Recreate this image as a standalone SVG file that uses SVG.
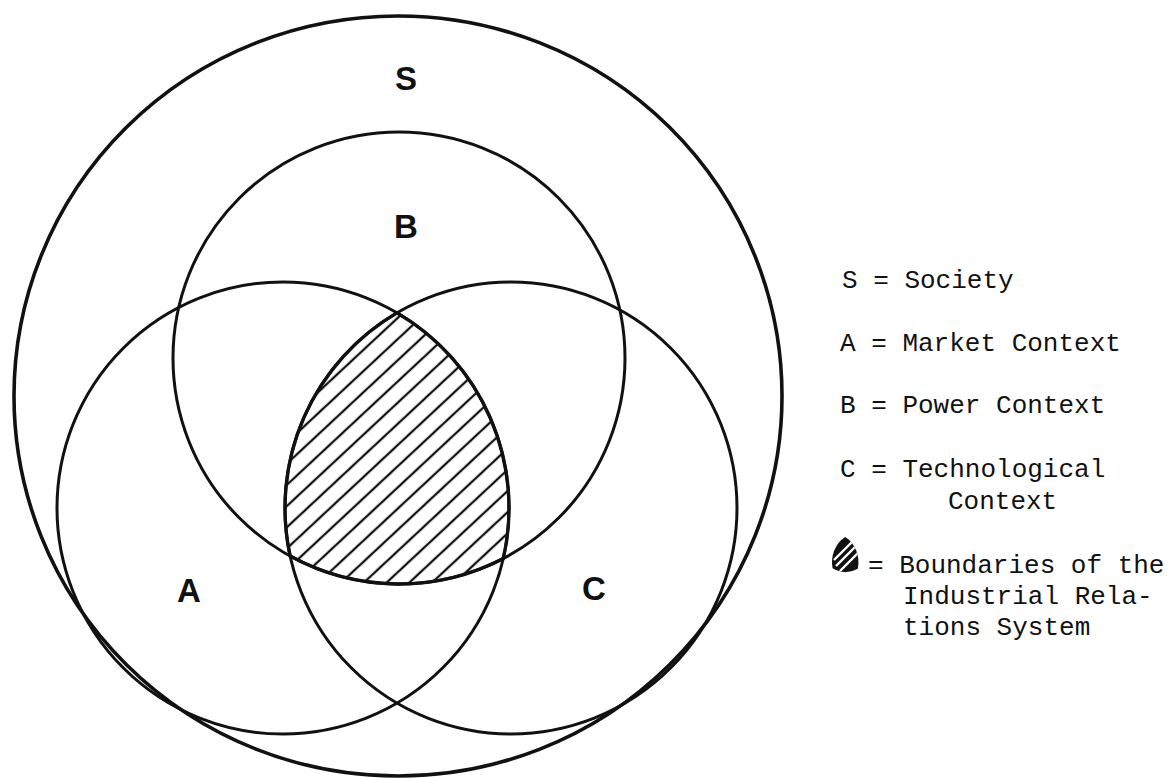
<svg xmlns="http://www.w3.org/2000/svg" width="1172" height="778" viewBox="0 0 1172 778">
  <style>
    .ring { fill: none; stroke: #111; stroke-width: 3; }
    .outer { fill: none; stroke: #111; stroke-width: 3.6; }
    .lbl { font-family: "Liberation Sans", Arial, sans-serif; font-weight: bold; font-size: 33px; fill: #111; text-anchor: middle; }
    .leg { font-family: "Liberation Mono", "DejaVu Sans Mono", monospace; font-size: 26px; fill: #111; }
  </style>
  <defs>
    <pattern id="hatch" patternUnits="userSpaceOnUse" width="20" height="15.5" patternTransform="rotate(-43)">
      <line x1="-2" y1="7.75" x2="22" y2="7.75" stroke="#111" stroke-width="2.3"/>
    </pattern>
    <path id="lens" d="M 397,312.86 A 226,226 0 0 0 290.17,556.08 A 226,226 0 0 0 503.29,558.49 A 226,226 0 0 0 397,312.86 Z"/>
    <clipPath id="iconClip">
      <use href="#lens" transform="translate(832,537) scale(0.118,0.129) translate(-285,-313)"/>
    </clipPath>
  </defs>
  <rect width="1172" height="778" fill="#fff"/>

  <g id="node-S">
    <ellipse class="outer" cx="398" cy="396" rx="384" ry="380"/>
    <text class="lbl" x="406" y="90">S</text>
  </g>
  <g id="node-B">
    <circle class="ring" cx="399" cy="358" r="226"/>
    <text class="lbl" x="406" y="238">B</text>
  </g>
  <g id="node-A">
    <circle class="ring" cx="283" cy="508" r="226"/>
    <text class="lbl" x="189" y="602">A</text>
  </g>
  <g id="node-C">
    <circle class="ring" cx="511" cy="508" r="226"/>
    <text class="lbl" x="594" y="600">C</text>
  </g>
  <g id="node-IRS">
    <use href="#lens" fill="url(#hatch)" stroke="#111" stroke-width="3.4"/>
  </g>
  <g id="connectors"></g>

  <g id="legend">
    <text class="leg" x="842" y="288">S = Society</text>
    <text class="leg" x="840" y="351">A = Market Context</text>
    <text class="leg" x="840" y="413">B = Power Context</text>
    <text class="leg" x="840" y="477">C = Technological</text>
    <text class="leg" x="948" y="509">Context</text>
    <g id="legend-icon">
      <use href="#lens" fill="#111" transform="translate(832,537) scale(0.118,0.129) translate(-285,-313)"/>
      <g clip-path="url(#iconClip)" stroke="#fff" stroke-width="2.4">
        <line x1="834" y1="560" x2="852" y2="542"/>
        <line x1="836" y1="566" x2="856" y2="546"/>
        <line x1="840" y1="571" x2="858" y2="553"/>
      </g>
    </g>
    <text class="leg" x="868" y="573">= Boundaries of the</text>
    <text class="leg" x="903" y="604">Industrial Rela-</text>
    <text class="leg" x="903" y="635">tions System</text>
  </g>
</svg>
